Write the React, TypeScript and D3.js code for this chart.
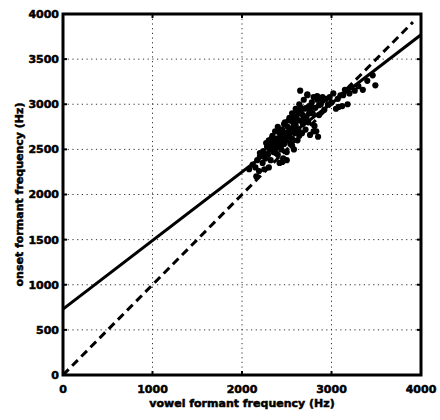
import React from "react";
import * as d3 from "d3";

const xTicks = [0, 1000, 2000, 3000, 4000];
const yTicks = [0, 500, 1000, 1500, 2000, 2500, 3000, 3500, 4000];
const fitLine = [[0, 730], [4000, 3770]];
const identityLine = [[0, 0], [3910, 3910]];
const xLabel = "vowel formant frequency (Hz)";
const yLabel = "onset formant frequency (Hz)";

const pointsX = [2080,2120,2150,2170,2190,2200,2230,2240,2260,2280,2290,2300,2310,2320,2330,2340,2350,2360,2370,2380,2390,2400,2400,2410,2420,2430,2440,2450,2450,2460,2470,2480,2490,2500,2500,2510,2520,2530,2540,2550,2560,2560,2570,2580,2590,2600,2600,2610,2620,2630,2640,2650,2660,2670,2680,2690,2700,2710,2720,2730,2740,2750,2760,2780,2790,2800,2810,2820,2840,2850,2860,2880,2900,2920,2940,2960,2980,3000,3020,3050,3080,3100,3120,3150,3180,3200,3220,3260,3300,3350,3400,3460,3490,2650,2730,2840,2250,2300,2160,2200,2270,2330,2380,2430,2470,2520,2560,2580,2620,2640,2700,2760,2800,2830,2460,2500,2420,2610,2550,2480,2350,2680,2720,2590,2530,2470,2410,2660,2620,2570,2690,2750,2780,2860,2900,2440,2390,2510,3070,3130];
const pointsY = [2280,2330,2300,2380,2260,2420,2350,2480,2400,2530,2440,2600,2500,2380,2550,2650,2470,2580,2700,2520,2620,2440,2750,2560,2680,2600,2500,2720,2360,2640,2560,2800,2680,2600,2470,2750,2650,2850,2560,2720,2900,2620,2800,2500,2680,2950,2760,2860,2600,2720,3000,2820,2900,2680,2780,3050,2950,2720,2860,3100,2800,2980,2660,3020,2900,3080,2760,2960,3050,2640,2880,3000,3080,2940,3060,3000,3080,3020,3120,2950,2970,3100,2980,3160,3000,3120,3190,3150,3200,3160,3260,3320,3210,3150,3110,3090,2280,2300,2200,2460,2570,2620,2460,2720,2780,2820,2540,2860,2920,2650,2850,2920,2700,2700,2400,2380,2350,2700,2820,2620,2540,2880,2960,2780,2700,2660,2620,2960,2820,2740,2830,2900,2960,2990,3040,2560,2520,2690,3060,3100];

const W = 440, H = 420;
const left = 63, right = 421, top = 14, bottom = 375;

export default function App() {
  const x = d3.scaleLinear().domain([0, 4000]).range([left, right]);
  const y = d3.scaleLinear().domain([0, 4000]).range([bottom, top]);
  const line = d3.line<number[]>().x(d => x(d[0])).y(d => y(d[1]));
  const font = "'DejaVu Sans', sans-serif";
  const pts = pointsX.map((v, i) => [v, pointsY[i]]);
  const textStyle = { stroke: "#000", strokeWidth: 0.5 };
  return (
    <svg width={W} height={H} style={{ position: "absolute", left: 0, top: 0, background: "#fff" }}>
      <rect x={0} y={0} width={W} height={H} fill="#fff" />
      <defs>
        <clipPath id="plot">
          <rect x={left} y={top} width={right - left} height={bottom - top} />
        </clipPath>
      </defs>
      {xTicks.slice(1, -1).map(t => (
        <line key={"gx" + t} x1={x(t)} x2={x(t)} y1={top} y2={bottom} stroke="#333" strokeWidth={1} strokeDasharray="1.2,3.5" />
      ))}
      {yTicks.slice(1, -1).map(t => (
        <line key={"gy" + t} x1={left} x2={right} y1={y(t)} y2={y(t)} stroke="#333" strokeWidth={1} strokeDasharray="1.2,3.5" />
      ))}
      <g clipPath="url(#plot)">
        {pts.map((p, i) => (
          <circle key={i} cx={x(p[0])} cy={y(p[1])} r={3.1} fill="#000" />
        ))}
        <path d={line(fitLine) || ""} stroke="#000" strokeWidth={3} fill="none" />
        <path d={line(identityLine) || ""} stroke="#000" strokeWidth={3} fill="none" strokeDasharray="8,5" />
      </g>
      {xTicks.map(t => (
        <g key={"tx" + t}>
          <line x1={x(t)} x2={x(t)} y1={bottom} y2={bottom - 4} stroke="#000" strokeWidth={2} />
          <line x1={x(t)} x2={x(t)} y1={top} y2={top + 4} stroke="#000" strokeWidth={2} />
          <text x={x(t)} y={393} textAnchor="middle" fontFamily={font} fontWeight="bold" fontSize={11} style={textStyle}>{t}</text>
        </g>
      ))}
      {yTicks.map(t => (
        <g key={"ty" + t}>
          <line x1={left} x2={left + 4} y1={y(t)} y2={y(t)} stroke="#000" strokeWidth={2} />
          <line x1={right} x2={right - 4} y1={y(t)} y2={y(t)} stroke="#000" strokeWidth={2} />
          <text x={59} y={y(t)} dy="0.36em" textAnchor="end" fontFamily={font} fontWeight="bold" fontSize={11} style={textStyle}>{t}</text>
        </g>
      ))}
      <rect x={left} y={top} width={right - left} height={bottom - top} fill="none" stroke="#000" strokeWidth={3} />
      <text x={(left + right) / 2} y={407} textAnchor="middle" fontFamily={font} fontWeight="bold" fontSize={11} style={textStyle}>{xLabel}</text>
      <text transform={`translate(23, ${(top + bottom) / 2}) rotate(-90)`} textAnchor="middle" fontFamily={font} fontWeight="bold" fontSize={11} style={textStyle}>{yLabel}</text>
    </svg>
  );
}
